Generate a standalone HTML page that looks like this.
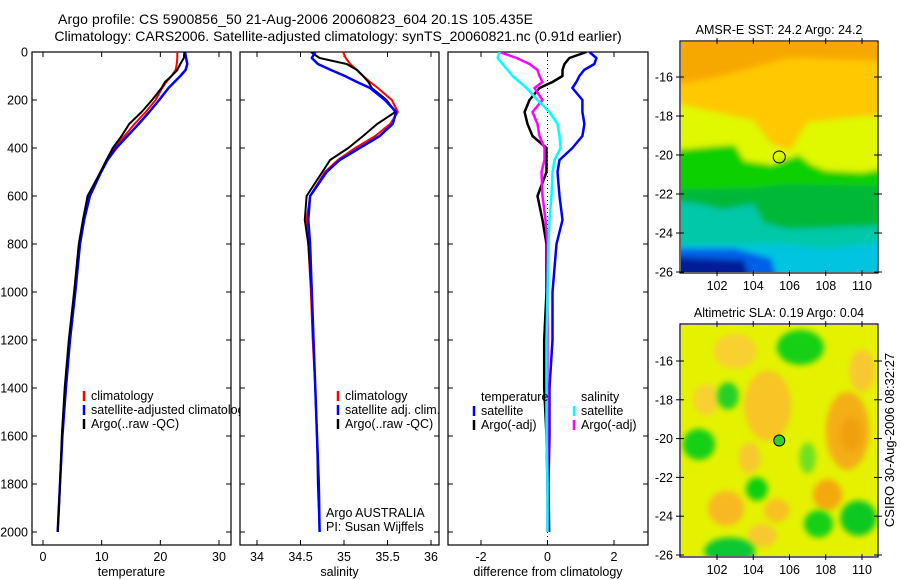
<!DOCTYPE html>
<html><head><meta charset="utf-8">
<style>
html,body{margin:0;padding:0;background:#fff;}
svg{display:block;font-family:"Liberation Sans",sans-serif;}
text{fill:#000;}
</style></head>
<body>
<svg id="fig" width="900" height="580" viewBox="0 0 900 580" xmlns="http://www.w3.org/2000/svg">
<defs>
<clipPath id="cp1"><rect x="32" y="52" width="208" height="493"/></clipPath>
<clipPath id="cp2"><rect x="240" y="52" width="199" height="493"/></clipPath>
<clipPath id="cp3"><rect x="448" y="52" width="200" height="493"/></clipPath>
<clipPath id="cm1"><rect x="681" y="42" width="196" height="230"/></clipPath>
<clipPath id="cm2"><rect x="681" y="325" width="196" height="231"/></clipPath>
<filter id="bl1" x="-20%" y="-20%" width="140%" height="140%"><feGaussianBlur stdDeviation="3"/></filter>
<filter id="bl2" x="-50%" y="-50%" width="200%" height="200%"><feGaussianBlur stdDeviation="3"/></filter>
</defs>
<text x="58" y="24" font-size="14" textLength="475">Argo profile: CS 5900856_50 21-Aug-2006 20060823_604 20.1S 105.435E</text>
<text x="338" y="41" font-size="14" text-anchor="middle">Climatology: CARS2006. Satellite-adjusted climatology: synTS_20060821.nc (0.91d earlier)</text>
<g id="root"></g>
<text transform="translate(894,440) rotate(-90)" font-size="13" text-anchor="middle">CSIRO 30-Aug-2006 08:32:27</text>
</svg>
<script>
// ---------- data ----------
const depthT = [0,25,50,75,100,125,150,200,250,300,350,400,450,500,600,700,800,1000,1200,1400,1600,1800,2000];
const tempArgo = [24.1,24.0,23.4,22.9,21.9,20.8,20.2,18.6,16.8,14.7,13.4,11.9,10.8,9.8,7.6,6.8,6.1,5.3,4.4,3.7,3.2,2.9,2.5];
const tempClim = [22.9,22.9,22.8,22.6,21.9,21.0,20.3,19.2,17.5,15.6,13.9,12.2,10.9,9.8,7.8,6.9,6.2,5.4,4.5,3.8,3.3,2.9,2.5];
const tempSat  = [24.2,24.4,24.6,24.3,23.4,22.4,21.4,19.8,18.1,16.3,14.4,12.5,11.0,9.9,8.0,7.0,6.3,5.5,4.6,3.9,3.3,2.9,2.5];
const salArgo = [34.62,34.72,35.03,35.15,35.22,35.28,35.32,35.49,35.59,35.38,35.22,35.05,34.84,34.75,34.57,34.55,34.59,34.63,34.65,34.67,34.69,34.70,34.72];
const salClim = [34.99,35.02,35.07,35.15,35.22,35.30,35.39,35.55,35.62,35.53,35.36,35.13,34.93,34.78,34.61,34.57,34.59,34.62,34.64,34.67,34.69,34.71,34.72];
const salSat  = [34.67,34.63,34.70,34.85,35.01,35.15,35.30,35.47,35.60,35.56,35.41,35.18,34.95,34.80,34.61,34.59,34.61,34.63,34.65,34.67,34.69,34.71,34.72];
const dTsat  = [1.26,1.47,1.41,1.10,0.96,0.87,0.75,1.05,1.05,1.11,1.05,0.75,0.36,0.30,0.36,0.45,0.27,0.15,0.15,0.06,0.06,0.03,0.05];
const dTargo = [1.17,0.66,0.51,0.45,0.45,0.15,-0.24,-0.54,-0.69,-0.60,-0.45,-0.03,-0.03,-0.03,-0.30,-0.15,-0.03,-0.03,-0.10,-0.10,-0.03,0.0,0.03];
const dSsat  = [-1.44,-1.50,-1.35,-1.20,-1.05,-0.84,-0.63,-0.30,0.06,0.30,0.36,0.39,0.21,0.15,0.12,0.06,0.03,0.0,-0.03,-0.03,-0.03,0.0,0.0];
const dSargo = [-1.44,-0.93,-0.54,-0.30,-0.24,-0.15,-0.39,-0.15,-0.45,-0.30,-0.24,-0.09,-0.09,-0.18,-0.15,-0.06,0.0,0.0,0.0,0.0,0.0,0.0,0.0];
const depthTicks = [0,200,400,600,800,1000,1200,1400,1600,1800,2000];
const tempTicks = [0,10,20,30];
const salTicks = [34,34.5,35,35.5,36];
const diffTicks = [-2,0,2];
const latTicks = [-16,-18,-20,-22,-24,-26];
const lonTicks = [102,104,106,108,110];
const argoLon = 105.435, argoLat = -20.1;

// ---------- helpers ----------
const NS='http://www.w3.org/2000/svg';
const root=document.getElementById('root');
function mk(tag,attrs,parent){const e=document.createElementNS(NS,tag);for(const k in attrs)e.setAttribute(k,attrs[k]);(parent||root).appendChild(e);return e;}
const yTop=52, yBot=545;
const yD = d => yTop + d*0.24;
function lin(d0,d1,p0,p1){return v=>p0+(v-d0)*(p1-p0)/(d1-d0);}

function panel(name,x0,x1,xs,ticks,label,showY,clip){
  const g=mk('g',{});
  
  
  const fr=mk('rect',{x:x0,y:yTop,width:x1-x0,height:yBot-yTop,fill:'none',stroke:'#000','stroke-width':1.2},g);
  
  
  ticks.forEach(t=>{const x=xs(t);
    mk('line',{x1:x,x2:x,y1:yBot,y2:yBot-5,stroke:'#000'},g);
    mk('line',{x1:x,x2:x,y1:yTop,y2:yTop+5,stroke:'#000'},g);
    const tx=mk('text',{x:x,y:yBot+16,'font-size':12.5,'text-anchor':'middle'},g);
    tx.textContent=t;
    
    
  });
  depthTicks.forEach(d=>{const y=yD(d);
    mk('line',{x1:x0,x2:x0+5,y1:y,y2:y,stroke:'#000'},g);
    mk('line',{x1:x1,x2:x1-5,y1:y,y2:y,stroke:'#000'},g);
    if(showY){const tx=mk('text',{x:28,y:y+4.5,'font-size':12.5,'text-anchor':'end'},g);tx.textContent=d;
      
      }
  });
  const lb=mk('text',{x:(x0+x1)/2,y:yBot+31,'font-size':12.5,'text-anchor':'middle'},g);
  lb.textContent=label;
  
  
  const pg=mk('g',{'clip-path':'url(#'+clip+')'},g);
  return pg;
}
function series(g,name,vals,xs,color,w){
  const pts=vals.map((v,i)=>xs(v).toFixed(1)+','+yD(depthT[i]).toFixed(1)).join(' ');
  const p=mk('polyline',{points:pts,fill:'none',stroke:color,'stroke-width':w,'stroke-linejoin':'round'},g);
  
  
}
function legend(g,x,y,items,name){
  items.forEach((it,i)=>{const yy=y+i*14;
    if(it[1]) mk('line',{x1:x,x2:x,y1:yy-6,y2:yy+4,stroke:it[1],'stroke-width':2.5},g);
    const t=mk('text',{x:x+7,y:yy+3,'font-size':12.5},g);t.textContent=it[0];
    
    
  });
}

// ---------- panel 1: temperature ----------
const xT=lin(0,30,43,219);
const p1=panel('temperature',32,231,xT,tempTicks,'temperature',true,'cp1');
series(p1,'temp-climatology-line',tempClim,xT,'#ff0000',2);
series(p1,'temp-satellite-line',tempSat,xT,'#0000ff',2.5);
series(p1,'temp-argo-line',tempArgo,xT,'#000000',2);
const lg1=mk('g',{'clip-path':'url(#cp1)'});
legend(lg1,84,397,[['climatology','#ff0000'],['satellite-adjusted climatology','#0000ff'],['Argo(..raw -QC)','#000']],'temperature');

// ---------- panel 2: salinity ----------
const xS=lin(34,36,257,431);
const p2=panel('salinity',240,439,xS,salTicks,'salinity',false,'cp2');
series(p2,'sal-climatology-line',salClim,xS,'#ff0000',2);
series(p2,'sal-argo-line',salArgo,xS,'#000000',2);
series(p2,'sal-satellite-line',salSat,xS,'#0000ff',2.5);
legend(root,338,397,[['climatology','#ff0000'],['satellite adj. clim.','#0000ff'],['Argo(..raw -QC)','#000']],'salinity');
[['Argo AUSTRALIA',517],['PI: Susan Wijffels',531]].forEach(a=>{const t=mk('text',{x:326,y:a[1],'font-size':12.5});t.textContent=a[0];
  
  });

// ---------- panel 3: differences ----------
const xDf=lin(-2,2,481,614);
const p3=panel('difference',448,648,xDf,diffTicks,'difference from climatology',false,'cp3');
mk('line',{x1:xDf(0),x2:xDf(0),y1:yTop,y2:yBot,stroke:'#000','stroke-dasharray':'1,3'},p3);
series(p3,'diff-temp-satellite-line',dTsat,xDf,'#0000ff',2.5);
series(p3,'diff-temp-argo-line',dTargo,xDf,'#000000',2.5);
series(p3,'diff-sal-argo-line',dSargo,xDf,'#ff00ff',2.5);
series(p3,'diff-sal-satellite-line',dSsat,xDf,'#00ffff',2.5);
legend(root,474,398,[['temperature',null],['satellite','#0000ff'],['Argo(-adj)','#000']],'diff-temperature');
legend(root,574,398,[['salinity',null],['satellite','#00ffff'],['Argo(-adj)','#ff00ff']],'diff-salinity');

// ---------- maps ----------
const lonX=lin(102,110,717,862);
function mapFrame(name,y0,y1,latY,title,clip){
  const g=mk('g',{});
  
  
  const t=mk('text',{x:779,y:y0-7,'font-size':12.5,'text-anchor':'middle'},g);t.textContent=title;
  
  
  const img=mk('g',{'clip-path':'url(#'+clip+')'},g);
  return {g,img,finish:()=>{
    mk('rect',{x:680,y:y0,width:198,height:y1-y0,fill:'none',stroke:'#000','stroke-width':1.2},g);
    latTicks.forEach(l=>{const y=latY(l);mk('line',{x1:676,x2:684,y1:y,y2:y,stroke:'#000'},g);mk('line',{x1:874,x2:882,y1:y,y2:y,stroke:'#000'},g);
      const tt=mk('text',{x:673,y:y+4.5,'font-size':12.5,'text-anchor':'end'},g);tt.textContent=l;
      
      });
    lonTicks.forEach(l=>{const x=lonX(l);mk('line',{x1:x,x2:x,y1:y0-3,y2:y0+3,stroke:'#000'},g);mk('line',{x1:x,x2:x,y1:y1-3,y2:y1+3,stroke:'#000'},g);
      const tt=mk('text',{x:x,y:y1+17,'font-size':12.5,'text-anchor':'middle'},g);tt.textContent=l;
      
      });
  }};
}
function poly(g,pts,latY,fill,filt){
  const p=pts.map(a=>lonX(a[0]).toFixed(1)+','+latY(a[1]).toFixed(1)).join(' ');
  const a={points:p,fill:fill};if(filt)a.filter='url(#'+filt+')';mk('polygon',a,g);
}
function blob(g,lon,lat,rx,ry,latY,fill){
  mk('ellipse',{cx:lonX(lon),cy:latY(lat),rx:rx*18.1,ry:ry*19.5,fill:fill,filter:'url(#bl2)'},g);
}
// SST map
const lat1=lin(-16,-26,77,272);
const m1=mapFrame('sst-map',41,273,lat1,'AMSR-E SST: 24.2 Argo: 24.2','cm1');
const gi=m1.img;
mk('rect',{x:681,y:41,width:197,height:232,fill:'#ffc800'},gi);
const b1=mk('g',{filter:'url(#bl1)'},gi);
poly(b1,[[99,-13],[112,-13],[112,-15.2],[106,-15],[102,-16],[99,-16.5]],lat1,'#f7a800');
poly(b1,[[99,-17.2],[102,-17.8],[104,-18.2],[105,-19.4],[106,-19.8],[107,-18.3],[110,-18],[112,-18],[112,-27],[99,-27]],lat1,'#e0f800');
poly(b1,[[99,-19.8],[102.5,-19.5],[103,-19.5],[103.5,-20.3],[105,-20.5],[106.5,-20.0],[107.2,-20.5],[108,-20.8],[110,-20.9],[112,-20.6],[112,-27],[99,-27]],lat1,'#10d000');
poly(b1,[[99,-21.8],[104,-21.7],[106,-21.5],[112,-21.6],[112,-27],[99,-27]],lat1,'#00b838');
poly(b1,[[99,-22.3],[101,-22.5],[102.3,-22.8],[104,-22.5],[104.6,-23.5],[106,-23.8],[112,-23.6],[112,-27],[99,-27]],lat1,'#00c8a8');
poly(b1,[[99,-24.6],[104,-24.6],[106,-24.6],[108,-24.8],[112,-24.4],[112,-27],[99,-27]],lat1,'#00c4e0');
poly(b1,[[99,-24.8],[103,-24.8],[105,-25.3],[105.5,-27],[99,-27]],lat1,'#0060e8');
poly(b1,[[99,-25.2],[101,-25.3],[103.5,-25.4],[104,-27],[99,-27]],lat1,'#001a98');
m1.finish();
const mk1=mk('circle',{cx:lonX(argoLon),cy:lat1(argoLat),r:6,fill:'none',stroke:'#000','stroke-width':1});



// SLA map
const lat2=lin(-16,-26,361,555);
const m2=mapFrame('sla-map',324,557,lat2,'Altimetric SLA: 0.19 Argo: 0.04','cm2');
const g2=m2.img;
mk('rect',{x:681,y:324,width:197,height:233,fill:'#e4f200'},g2);
[[104.8,-18.3,1.3,1.8,'#f8c428'],[109.2,-19.6,1.2,2.0,'#f4ae18'],[108.1,-22.9,0.8,0.8,'#f4a810'],[102.5,-23.6,1.0,0.9,'#f8b820'],
 [105.3,-23.7,0.7,0.6,'#f8c020'],[103.8,-21,0.6,0.8,'#f8c830'],[101.4,-18,0.7,0.8,'#f8d030'],[103,-15.5,1.2,0.9,'#f8d030'],
 [110,-16.5,0.7,1.1,'#f8c830'],[104.5,-25,0.8,0.6,'#f8c830'],[109.4,-19.8,0.6,0.9,'#f0a010']].forEach(b=>blob(g2,b[0],b[1],b[2],b[3],lat2,b[4]));
[[106.6,-15.3,1.3,0.9,'#18d018'],[102.6,-17.8,0.6,0.7,'#28d028'],[101.0,-20.3,0.9,0.8,'#18d018'],[107.0,-21.0,0.45,0.8,'#70e020'],
 [104.2,-22.6,0.6,0.6,'#10d010'],[107.6,-24.4,0.8,0.7,'#18d018'],[109.8,-24.1,1.0,0.9,'#10c820'],[102.7,-25.8,1.4,0.7,'#10c830']].forEach(b=>blob(g2,b[0],b[1],b[2],b[3],lat2,b[4]));
m2.finish();
const mk2=mk('circle',{cx:lonX(argoLon),cy:lat2(argoLat),r:5.5,fill:'#30d030',stroke:'#000','stroke-width':1});


</script>
</body></html>
